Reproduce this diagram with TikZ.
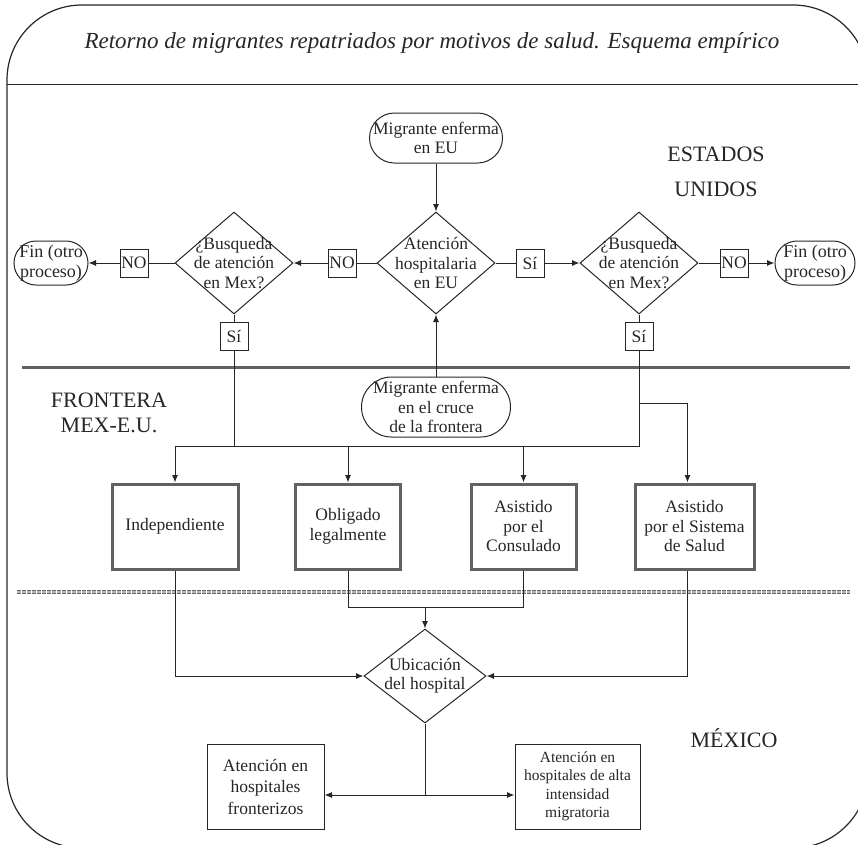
\documentclass[tikz,border=0pt]{standalone}
\usepackage{fontspec}
\setmainfont{Liberation Serif}
\usetikzlibrary{shapes.geometric,arrows.meta}

\begin{document}
\begin{tikzpicture}[>={Latex[length=7.5pt,width=6pt]}, x=1pt, y=-1pt, line width=1pt, draw=black!85,
  every node/.style={text=black!85, align=center, font=\fontsize{17.5}{19.5}\selectfont},
  terminal/.style={draw, rectangle, rounded corners=22pt, inner sep=1pt, minimum height=44pt},
  choice/.style={draw, diamond, inner sep=0pt, minimum width=118pt, minimum height=102pt},
  tag/.style={draw, rectangle, inner sep=0pt, minimum width=28pt, minimum height=28pt, font=\fontsize{17.5}{19}\selectfont},
  route/.style={draw=black!62, line width=3pt, rectangle, inner sep=2pt, minimum height=85pt},
  outcome/.style={draw, rectangle, inner sep=2pt, minimum height=85pt},
  region/.style={font=\fontsize{22}{25}\selectfont}]
\useasboundingbox (0,0) rectangle (858,844);
\draw[line width=1.2pt, rounded corners=75pt] (7,5) rectangle (868,848);
\draw (7,84) -- (868,84);
\draw[black!62, line width=3pt] (22,367) -- (850,367);
\draw[black!60, line width=1pt, double=gray!55, double distance=1.4pt, dash pattern=on 4pt off 1pt] (17,592) -- (850,592);

\node[font=\fontsize{23}{26}\selectfont\itshape] (title) at (432,43) {Retorno de migrantes repatriados por motivos de salud. Esquema empírico};
\node[region, font=\fontsize{22}{35}\selectfont] (us) at (716,172) {ESTADOS\\UNIDOS};
\node[region] (border) at (109,413) {FRONTERA\\MEX-E.U.};
\node[region] (mx) at (734,738) {MÉXICO};

\node[terminal, minimum width=133pt, rounded corners=25pt, minimum height=50pt] (mEU) at (436,138) {Migrante enferma\\en EU};
\node[choice, label={center:Atención\\hospitalaria\\en EU}] (aEU) at (436,263) {};
\node[tag] (noC) at (342,263) {NO};
\node[choice, label={center:¿Busqueda\\de atención\\en Mex?}] (lB) at (234,263) {};
\node[tag] (noL) at (134,263) {NO};
\node[terminal, minimum width=74pt, font=\fontsize{18}{20}\selectfont] (finL) at (51,263) {Fin (otro\\proceso)};
\node[tag] (siC) at (530,263) {Sí};
\node[choice, label={center:¿Busqueda\\de atención\\en Mex?}] (rB) at (639,263) {};
\node[tag] (noR) at (734,263) {NO};
\node[terminal, minimum width=80pt, font=\fontsize{18}{20}\selectfont] (finR) at (815,263) {Fin (otro\\proceso)};
\node[tag] (siL) at (234,336) {Sí};
\node[tag] (siR) at (639,336) {Sí};
\node[terminal, minimum width=149pt, rounded corners=30pt, minimum height=60pt] (mCruce) at (436,407) {Migrante enferma\\en el cruce\\de la frontera};

\node[route, minimum width=126pt] (ind) at (175,526.5) {Independiente};
\node[route, minimum width=105pt] (obl) at (348,526.5) {Obligado\\legalmente};
\node[route, minimum width=105pt] (con) at (523.5,526.5) {Asistido\\por el\\Consulado};
\node[route, minimum width=119pt] (sis) at (694.5,526.5) {Asistido\\por el Sistema\\de Salud};

\node[choice, minimum width=122pt, minimum height=94pt, label={center:Ubicación\\del hospital}] (ubi) at (425,676) {};
\node[outcome, minimum width=117pt, font=\fontsize{17.5}{21.5}\selectfont] (hF) at (265.5,786.5) {Atención en\\hospitales\\fronterizos};
\node[outcome, minimum width=125pt, font=\fontsize{15.5}{18.5}\selectfont] (hA) at (577.5,786.5) {Atención en\\hospitales de alta\\intensidad\\migratoria};

\coordinate (jL) at (234,446);
\coordinate (jR) at (639,446);
\coordinate (jS) at (639,403);
\coordinate (jM) at (425,607);
\coordinate (jB) at (425,795);

\draw[->] (mEU) -- (aEU);
\draw[->] (mCruce) -- (aEU);
\draw (aEU) -- (noC);
\draw[->] (noC) -- (lB);
\draw (lB) -- (noL);
\draw[->] (noL) -- (finL);
\draw (aEU) -- (siC);
\draw[->] (siC) -- (rB);
\draw (rB) -- (noR);
\draw[->] (noR) -- (finR);
\draw (lB) -- (siL);
\draw (rB) -- (siR);
\draw (siL) -- (jL) -- (jR) -- (siR);
\draw[->] (jL) -| (ind);
\draw[->] (jL) -| (obl);
\draw[->] (jL) -| (con);
\draw[->] (jS) -| ([xshift=-7pt]sis.north);
\draw (obl) |- (jM) -| (con);
\draw[->] (jM) -- (ubi);
\draw[->] (ind) |- (ubi);
\draw[->] ([xshift=-7pt]sis.south) |- (ubi);
\draw (ubi) -- (jB);
\draw[->] (jB) -- (jB -| hF.east);
\draw[->] (jB) -- (jB -| hA.west);
\end{tikzpicture}
\end{document}
